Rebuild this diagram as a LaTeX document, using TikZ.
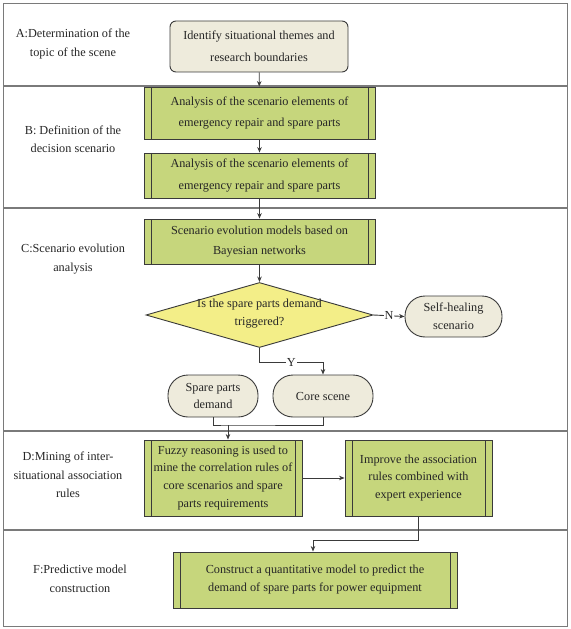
\documentclass[tikz,border=0pt]{standalone}
\usepackage{fontspec}
\setmainfont{Liberation Serif}
\usetikzlibrary{shapes.geometric,arrows.meta}
\definecolor{beige}{HTML}{EEEBDC}
\definecolor{leaf}{HTML}{C6D67C}
\definecolor{lemon}{HTML}{F3EE88}
\definecolor{edge}{HTML}{3A3A3A}
\definecolor{sep}{HTML}{7A7A7A}
\tikzset{
  txt/.style={font=\fontsize{12.3}{18}\selectfont, align=center, text=black!85},
  wide/.style={font=\fontsize{12.3}{22}\selectfont},
  beigebox/.style={txt, draw=edge, line width=0.9bp, fill=beige, rounded corners=6bp, inner sep=0pt},
  pill/.style={txt, draw=edge, line width=0.9bp, fill=beige, rounded corners=20bp, inner sep=0pt},
  procbox/.style={txt, draw=edge, line width=0.9bp, fill=leaf, inner sep=0pt,
    path picture={\draw[edge, line width=0.8bp]
      ([xshift=7bp]path picture bounding box.north west) -- ([xshift=7bp]path picture bounding box.south west)
      ([xshift=-7bp]path picture bounding box.north east) -- ([xshift=-7bp]path picture bounding box.south east);}},
  decide/.style={diamond, draw=edge, line width=0.9bp, fill=lemon, inner sep=0pt},
  lbl/.style={txt, font=\fontsize{12.3}{18.5}\selectfont},
  conn/.style={draw=edge, line width=0.9bp},
  arr/.style={conn, -{Stealth[length=5.5bp,width=4.5bp]}},
  sepline/.style={draw=sep, line width=1.1bp},
  tag/.style={txt, fill=white, inner sep=1bp}
}
\begin{document}
\begin{tikzpicture}[x=1bp,y=-1bp]
\useasboundingbox (0,0) rectangle (571,629);
% frame and bands
\draw[sepline] (3.5,3.5) rectangle (567.5,626.5);
\draw[sepline] (3.5,86) -- (567.5,86);
\draw[sepline] (3.5,208) -- (567.5,208);
\draw[sepline] (3.5,431) -- (567.5,431);
\draw[sepline] (3.5,530) -- (567.5,530);
% band labels
\node[lbl] (la) at (73,44) {A:Determination of the\\topic of the scene};
\node[lbl] (lb) at (73,139) {B: Definition of the\\decision scenario};
\node[lbl] (lc) at (73,259) {C:Scenario evolution\\analysis};
\node[lbl] (ld) at (68,475) {D:Mining of inter-\\situational association\\rules};
\node[lbl] (lf) at (80,579) {F:Predictive model\\construction};
% nodes
\node[beigebox, wide, minimum width=178bp, minimum height=51bp] (a) at (259,46.5) {Identify situational themes and\\research boundaries};
\node[procbox, wide, minimum width=231bp, minimum height=52bp] (b1) at (259.5,113) {Analysis of the scenario elements of\\emergency repair and spare parts};
\node[procbox, wide, minimum width=231bp, minimum height=45bp] (b2) at (259.5,175.5) {Analysis of the scenario elements of\\emergency repair and spare parts};
\node[procbox, font=\fontsize{12.3}{20}\selectfont, minimum width=231bp, minimum height=45bp] (c1) at (259.5,241.5) {Scenario evolution models based on\\Bayesian networks};
\node[decide, minimum width=227bp, minimum height=65bp] (dia) at (259.5,315) {};
\node[txt] (diat) at (259.5,314) {Is the spare parts demand\\triggered?};
\node[pill, minimum width=97bp, minimum height=41bp] (heal) at (453.5,316.5) {Self-healing\\scenario};
\node[pill, minimum width=90bp, minimum height=42bp] (spare) at (213,396) {Spare parts\\demand};
\node[pill, minimum width=100bp, minimum height=42bp] (core) at (323,396) {Core scene};
\node[procbox, minimum width=158bp, minimum height=76bp] (d1) at (223,478) {Fuzzy reasoning is used to\\mine the correlation rules of\\core scenarios and spare\\parts requirements};
\node[procbox, minimum width=147bp, minimum height=76bp] (d2) at (418.5,478) {Improve the association\\rules combined with\\expert experience};
\node[procbox, minimum width=284bp, minimum height=56bp] (f) at (315,580) {Construct a quantitative model to predict the\\demand of spare parts for power equipment};
% connectors
\draw[arr] (a) -- (b1);
\draw[arr] (b1) -- (b2);
\draw[arr] (b2) -- (c1);
\draw[arr] (c1) -- (dia);
\draw[arr] (dia.east) -- (heal.west) node[tag, midway] (n) {N};
\coordinate (ybend) at (259.5,362);
\draw[arr] (dia.south) -- (ybend) -| (core.north) node[tag, pos=0.25] (y) {Y};
\coordinate (merge) at (228,425);
\draw[conn] (spare.south) |- (merge) -| (core.south);
\draw[arr] (merge) -- (merge |- d1.north);
\draw[arr] (d1) -- (d2);
\coordinate (fbend) at (418.5,540);
\draw[arr] (d2.south) -- (fbend) -| (f.north -| 313,0);
\end{tikzpicture}
\end{document}
